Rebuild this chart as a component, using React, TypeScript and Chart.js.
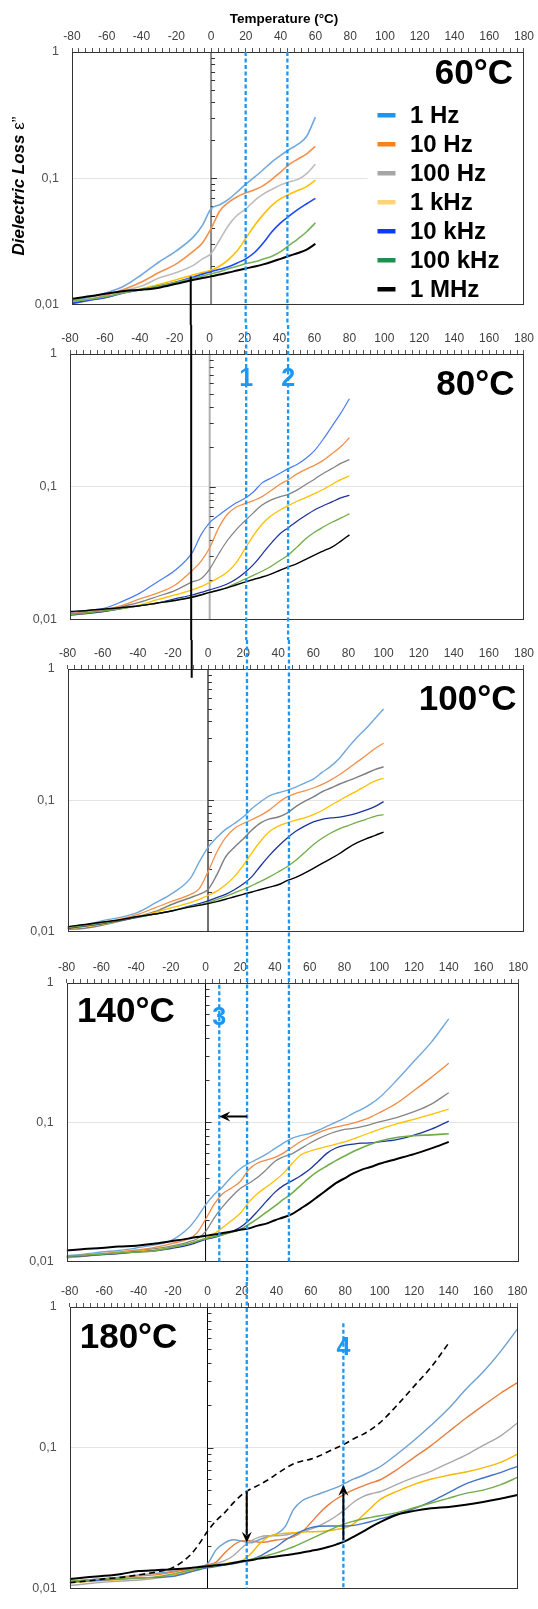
import React, { useEffect, useRef } from 'react';
import { Chart, registerables } from 'chart.js';

Chart.register(...registerables);

const FONT = "'Liberation Sans', Arial, Helvetica, sans-serif";
const PAGE_W = 538;

// ---------------- data ----------------
const TEMPS = [-80, -70, -60, -50, -40, -30, -20, -10, -5, 0, 5, 10, 15, 20, 25, 30, 35, 40, 45, 50, 55, 60, 65, 70, 75, 80, 85, 90, 95, 100, 110, 120, 130, 140, 150, 160, 170, 180];
const SERIES = ['1 Hz', '10 Hz', '100 Hz', '1 kHz', '10 kHz', '100 kHz', '1 MHz'];
const X_MIN = -80;
const X_MAX = 180;
const X_MINOR_STEP = 4;
const X_LABEL_STEP = 20;
const Y_TICKS = [0.01, 0.1, 1];
const Y_TICK_LABELS = ['0,01', '0,1', '1'];
const Y_MINOR = [2, 3, 4, 5, 6, 7, 8, 9];

// 60 °C
const P60_1HZ = [0.0108, 0.0114, 0.0124, 0.014, 0.0172, 0.0217, 0.0266, 0.0345, 0.0423, 0.0573, 0.0617, 0.068, 0.0778, 0.09, 0.102, 0.117, 0.135, 0.152, 0.169, 0.186, 0.215, 0.305];
const P60_10HZ = [0.0105, 0.011, 0.0119, 0.0132, 0.0151, 0.0179, 0.021, 0.0266, 0.0307, 0.0399, 0.055, 0.0643, 0.0714, 0.0766, 0.0811, 0.0875, 0.098, 0.112, 0.129, 0.142, 0.156, 0.179];
const P60_100HZ = [0.0105, 0.011, 0.0114, 0.0128, 0.014, 0.0162, 0.0179, 0.0205, 0.023, 0.0253, 0.0326, 0.0423, 0.0509, 0.0573, 0.0666, 0.0748, 0.0817, 0.0886, 0.0938, 0.098, 0.109, 0.129];
const P60_1KHZ = [0.0102, 0.0108, 0.0114, 0.0124, 0.0133, 0.0144, 0.0157, 0.0172, 0.0179, 0.0187, 0.0202, 0.0227, 0.0266, 0.0335, 0.0423, 0.0515, 0.061, 0.0689, 0.0748, 0.0802, 0.0859, 0.0966];
const P60_10KHZ = [0.0102, 0.0108, 0.0114, 0.0124, 0.0131, 0.014, 0.0151, 0.0165, 0.0174, 0.0182, 0.019, 0.0199, 0.0213, 0.023, 0.0258, 0.0307, 0.0377, 0.0443, 0.0503, 0.0566, 0.0628, 0.0693];
const P60_100KHZ = [0.0106, 0.011, 0.0116, 0.0124, 0.0132, 0.014, 0.015, 0.0162, 0.0168, 0.0175, 0.0182, 0.0192, 0.0201, 0.0211, 0.0218, 0.0229, 0.0241, 0.0262, 0.0295, 0.0331, 0.0377, 0.0443];
const P60_1MHZ = [0.0111, 0.0116, 0.0122, 0.0128, 0.0131, 0.0136, 0.0146, 0.0157, 0.0162, 0.0167, 0.0173, 0.0179, 0.0186, 0.0193, 0.02, 0.0208, 0.0218, 0.023, 0.0243, 0.0256, 0.0272, 0.0302];

// 80 °C
const P80_1HZ = [0.0112, 0.0117, 0.0122, 0.0137, 0.0158, 0.0192, 0.0234, 0.0319, 0.0434, 0.0537, 0.0608, 0.068, 0.0753, 0.0815, 0.0912, 0.107, 0.116, 0.126, 0.137, 0.147, 0.163, 0.187, 0.228, 0.285, 0.357, 0.46];
const P80_10HZ = [0.0111, 0.0115, 0.0119, 0.0128, 0.0143, 0.0158, 0.0181, 0.0234, 0.0274, 0.0347, 0.0486, 0.0618, 0.07, 0.0745, 0.0787, 0.0843, 0.0933, 0.104, 0.113, 0.125, 0.135, 0.145, 0.158, 0.177, 0.2, 0.234];
const P80_100HZ = [0.011, 0.0113, 0.0117, 0.0125, 0.0135, 0.0149, 0.0165, 0.0192, 0.0203, 0.024, 0.031, 0.0392, 0.0472, 0.055, 0.0636, 0.0728, 0.0793, 0.0838, 0.0877, 0.0943, 0.104, 0.114, 0.126, 0.137, 0.15, 0.16];
const P80_1KHZ = [0.0108, 0.0111, 0.0115, 0.0122, 0.0129, 0.0141, 0.0153, 0.0167, 0.0177, 0.019, 0.0206, 0.0227, 0.0266, 0.0337, 0.0429, 0.0522, 0.0601, 0.0666, 0.072, 0.0778, 0.0828, 0.0887, 0.0953, 0.104, 0.113, 0.121];
const P80_10KHZ = [0.0108, 0.0111, 0.0115, 0.0121, 0.0127, 0.0133, 0.0143, 0.0153, 0.016, 0.0167, 0.0175, 0.0185, 0.0201, 0.0225, 0.0259, 0.031, 0.0373, 0.0439, 0.0491, 0.055, 0.0608, 0.0669, 0.0719, 0.0769, 0.0824, 0.0862];
const P80_100KHZ = [0.0109, 0.0112, 0.0116, 0.0121, 0.0127, 0.0133, 0.0139, 0.0149, 0.0154, 0.016, 0.0167, 0.0175, 0.0187, 0.0201, 0.0215, 0.0231, 0.0251, 0.0277, 0.0306, 0.0351, 0.0406, 0.0454, 0.0497, 0.054, 0.058, 0.0625];
const P80_1MHZ = [0.0115, 0.0117, 0.012, 0.0123, 0.0127, 0.0133, 0.0139, 0.0147, 0.0153, 0.016, 0.0166, 0.0173, 0.0182, 0.0191, 0.02, 0.0209, 0.022, 0.0234, 0.0249, 0.0264, 0.0284, 0.0306, 0.0328, 0.0351, 0.0388, 0.0434];

// 100 °C
const P100_1HZ = [0.0108, 0.0112, 0.0121, 0.0128, 0.014, 0.0165, 0.0197, 0.0255, 0.0339, 0.0438, 0.052, 0.06, 0.0665, 0.0745, 0.0865, 0.0975, 0.108, 0.114, 0.119, 0.126, 0.135, 0.145, 0.163, 0.182, 0.21, 0.254, 0.302, 0.352, 0.418, 0.495];
const P100_10HZ = [0.0106, 0.011, 0.0117, 0.0124, 0.0135, 0.0152, 0.0171, 0.0192, 0.0212, 0.0286, 0.0402, 0.052, 0.061, 0.0665, 0.0713, 0.0767, 0.0845, 0.0958, 0.106, 0.113, 0.118, 0.124, 0.132, 0.143, 0.157, 0.175, 0.196, 0.219, 0.247, 0.272];
const P100_100HZ = [0.0104, 0.0106, 0.0112, 0.012, 0.013, 0.0142, 0.0162, 0.0181, 0.0192, 0.0209, 0.027, 0.037, 0.0438, 0.0506, 0.0593, 0.0672, 0.0721, 0.0745, 0.0798, 0.0895, 0.098, 0.106, 0.116, 0.124, 0.133, 0.141, 0.15, 0.16, 0.171, 0.18];
const P100_1KHZ = [0.0105, 0.0109, 0.0114, 0.0121, 0.0129, 0.014, 0.0153, 0.0166, 0.0176, 0.0188, 0.0203, 0.0227, 0.0262, 0.0317, 0.0398, 0.0489, 0.0577, 0.0635, 0.0673, 0.0705, 0.0733, 0.0776, 0.0836, 0.0916, 0.0998, 0.109, 0.118, 0.129, 0.14, 0.147];
const P100_10KHZ = [0.0106, 0.011, 0.0115, 0.0121, 0.0128, 0.0136, 0.0144, 0.0157, 0.0163, 0.0171, 0.0181, 0.0192, 0.0208, 0.023, 0.0262, 0.0317, 0.038, 0.0446, 0.0514, 0.058, 0.0635, 0.0684, 0.0716, 0.0733, 0.0745, 0.0767, 0.0798, 0.084, 0.0894, 0.0976];
const P100_100KHZ = [0.0107, 0.0111, 0.0116, 0.0122, 0.0129, 0.0136, 0.0144, 0.0155, 0.016, 0.0166, 0.0175, 0.0185, 0.0197, 0.0209, 0.0224, 0.0241, 0.0261, 0.0284, 0.0311, 0.0349, 0.04, 0.0459, 0.0514, 0.0563, 0.0607, 0.0643, 0.068, 0.0716, 0.0754, 0.0776];
const P100_1MHZ = [0.0109, 0.0113, 0.0118, 0.0123, 0.013, 0.0136, 0.0144, 0.0154, 0.0158, 0.0163, 0.0169, 0.0176, 0.0184, 0.0192, 0.02, 0.0209, 0.0218, 0.0227, 0.0244, 0.0258, 0.0278, 0.0303, 0.033, 0.0359, 0.0393, 0.0436, 0.0475, 0.0508, 0.0538, 0.0572];

// 140 °C
const P140_1HZ = [0.011, 0.0113, 0.0117, 0.012, 0.0125, 0.0131, 0.0141, 0.0173, 0.0206, 0.0255, 0.0303, 0.0346, 0.0406, 0.0464, 0.0508, 0.0545, 0.059, 0.0649, 0.0711, 0.077, 0.0804, 0.083, 0.0876, 0.0938, 0.1, 0.107, 0.116, 0.124, 0.135, 0.15, 0.2, 0.274, 0.376, 0.553];
const P140_10HZ = [0.0108, 0.0111, 0.0114, 0.0117, 0.0121, 0.0126, 0.0134, 0.0145, 0.016, 0.0201, 0.0258, 0.0308, 0.0337, 0.0375, 0.0459, 0.051, 0.0535, 0.0559, 0.0603, 0.0664, 0.073, 0.0787, 0.0843, 0.0889, 0.0923, 0.0953, 0.0984, 0.103, 0.109, 0.117, 0.137, 0.169, 0.21, 0.265];
const P140_100HZ = [0.0106, 0.0109, 0.0112, 0.0115, 0.0119, 0.0123, 0.0129, 0.0138, 0.0145, 0.0164, 0.0206, 0.0249, 0.0292, 0.0334, 0.0365, 0.0402, 0.0457, 0.0525, 0.0565, 0.0596, 0.0649, 0.0707, 0.0762, 0.0813, 0.0857, 0.0889, 0.0904, 0.0929, 0.0964, 0.1005, 0.108, 0.119, 0.135, 0.163];
const P140_1KHZ = [0.0107, 0.011, 0.0112, 0.0115, 0.0118, 0.0121, 0.0126, 0.0134, 0.014, 0.0146, 0.0158, 0.0176, 0.0197, 0.0222, 0.0268, 0.0308, 0.0343, 0.0381, 0.0433, 0.0508, 0.0584, 0.0619, 0.0646, 0.067, 0.0696, 0.0722, 0.0758, 0.08, 0.0844, 0.0889, 0.0974, 0.105, 0.114, 0.124];
const P140_10KHZ = [0.0108, 0.011, 0.0112, 0.0114, 0.0117, 0.0119, 0.0124, 0.0131, 0.0137, 0.0144, 0.0149, 0.0156, 0.0164, 0.0176, 0.0198, 0.023, 0.027, 0.0315, 0.0352, 0.0381, 0.0415, 0.0459, 0.0525, 0.06, 0.0653, 0.0682, 0.0696, 0.0707, 0.0711, 0.0722, 0.075, 0.0808, 0.0893, 0.102];
const P140_100KHZ = [0.0109, 0.0111, 0.0113, 0.0115, 0.0117, 0.0119, 0.0126, 0.0134, 0.014, 0.0146, 0.0151, 0.0156, 0.0163, 0.017, 0.0185, 0.0203, 0.0226, 0.0251, 0.028, 0.0311, 0.0354, 0.0402, 0.0447, 0.0487, 0.053, 0.0572, 0.0616, 0.0657, 0.0696, 0.073, 0.0778, 0.08, 0.0812, 0.0826];
const P140_1MHZ = [0.012, 0.0123, 0.0125, 0.0128, 0.013, 0.0134, 0.014, 0.0146, 0.015, 0.0153, 0.0156, 0.016, 0.0164, 0.0169, 0.0173, 0.0181, 0.0187, 0.0198, 0.0208, 0.022, 0.0241, 0.0265, 0.0295, 0.0328, 0.0365, 0.0396, 0.0429, 0.0457, 0.0477, 0.0503, 0.0545, 0.059, 0.0649, 0.0723];

// 180 °C
const P180_1HZ = [0.0112, 0.0115, 0.0118, 0.0121, 0.0125, 0.0128, 0.0132, 0.014, 0.0143, 0.015, 0.0188, 0.0211, 0.0222, 0.0217, 0.0211, 0.0222, 0.0234, 0.0244, 0.0274, 0.0365, 0.042, 0.0448, 0.0471, 0.0496, 0.0523, 0.056, 0.06, 0.0635, 0.068, 0.073, 0.09, 0.113, 0.145, 0.19, 0.26, 0.345, 0.48, 0.7];
const P180_10HZ = [0.0112, 0.0114, 0.0117, 0.012, 0.0123, 0.0125, 0.0131, 0.0138, 0.0141, 0.0147, 0.0154, 0.0179, 0.0203, 0.0218, 0.0219, 0.0213, 0.0215, 0.0221, 0.0225, 0.0234, 0.0253, 0.0293, 0.0343, 0.0391, 0.0434, 0.0471, 0.0504, 0.0534, 0.0563, 0.059, 0.07, 0.0855, 0.104, 0.13, 0.162, 0.199, 0.243, 0.29];
const P180_100HZ = [0.0105, 0.0108, 0.0111, 0.0113, 0.0115, 0.0118, 0.0125, 0.0136, 0.014, 0.0145, 0.015, 0.0158, 0.0171, 0.0195, 0.0217, 0.0232, 0.0237, 0.0237, 0.024, 0.0247, 0.0253, 0.0264, 0.028, 0.0301, 0.0329, 0.0365, 0.0412, 0.0448, 0.0471, 0.0487, 0.055, 0.0615, 0.0683, 0.0778, 0.0887, 0.104, 0.121, 0.15];
const P180_1KHZ = [0.011, 0.0112, 0.0114, 0.0116, 0.0118, 0.012, 0.0124, 0.0132, 0.0138, 0.0143, 0.0147, 0.015, 0.0154, 0.0158, 0.0176, 0.0206, 0.0232, 0.0243, 0.0247, 0.0249, 0.0252, 0.0253, 0.0254, 0.0257, 0.0263, 0.027, 0.0289, 0.0329, 0.0375, 0.0427, 0.049, 0.055, 0.06, 0.0638, 0.0673, 0.072, 0.0787, 0.09];
const P180_10KHZ = [0.0111, 0.0113, 0.0115, 0.0117, 0.0119, 0.012, 0.0122, 0.0131, 0.0136, 0.014, 0.0143, 0.0147, 0.015, 0.0154, 0.016, 0.0169, 0.0183, 0.0198, 0.022, 0.0239, 0.0257, 0.0271, 0.0277, 0.0278, 0.0278, 0.0278, 0.0281, 0.0289, 0.0299, 0.0312, 0.0337, 0.0369, 0.0416, 0.048, 0.0554, 0.061, 0.0666, 0.0738];
const P180_100KHZ = [0.0113, 0.0115, 0.0117, 0.0118, 0.0119, 0.0121, 0.0127, 0.0135, 0.0139, 0.0143, 0.0145, 0.0148, 0.0152, 0.0156, 0.0161, 0.0166, 0.0172, 0.0179, 0.0188, 0.0198, 0.0211, 0.0225, 0.024, 0.0257, 0.0274, 0.0289, 0.0301, 0.0312, 0.032, 0.0329, 0.0346, 0.0375, 0.0405, 0.0438, 0.0474, 0.05, 0.0545, 0.0615];
const P180_1MHZ = [0.0117, 0.012, 0.0123, 0.0127, 0.0133, 0.0135, 0.0137, 0.014, 0.0142, 0.0144, 0.0146, 0.0148, 0.0152, 0.0156, 0.0159, 0.0163, 0.0166, 0.0169, 0.0172, 0.0176, 0.018, 0.0185, 0.019, 0.0197, 0.0206, 0.0217, 0.0234, 0.0253, 0.0274, 0.0295, 0.0334, 0.0356, 0.0371, 0.038, 0.0394, 0.0412, 0.0434, 0.0461];

const X_TICK_VALUES = Array.from({ length: (X_MAX - X_MIN) / X_MINOR_STEP + 1 }, (_, i) => X_MIN + i * X_MINOR_STEP);

// ---------------- styles / layout ----------------
const BLUE_MARK = '#1A98F4';
const LEGEND_COLORS = ['#1E96F0', '#F7821B', '#A6A6A6', '#FFD479', '#0B3BFF', '#1F8F4F', '#000000'];

type VLine = { t: number; from: any; to: any; color: string; width: number; dash?: number[] };

const blueDash = (t: number, from: any, to: any): VLine => ({ t, from, to, color: BLUE_MARK, width: 2.3, dash: [4, 2.5] });
const blackLine = (t: number, from: any, to: any): VLine => ({ t, from, to, color: '#000', width: 2 });

const PANELS: any[] = [
  {
    key: 'p60', canvasTop: 0, canvasH: 325, left: 72, right: 527.5, plotTop: 52, plotBottom: 316,
    series: [P60_1HZ, P60_10HZ, P60_100HZ, P60_1KHZ, P60_10KHZ, P60_100KHZ, P60_1MHZ],
    colors: ['#72A9DC', '#F4904A', '#BDBDBD', '#FFC000', '#1A47FF', '#77B255', '#000000'],
    widths: [1.6, 1.6, 1.6, 1.6, 1.6, 1.6, 2],
    zeroColor: '#8a8a8a', zeroWidth: 2, mask: 90,
    title: { text: '60°C', align: 'right', dx: -11, dy: 22 },
    vlines: [blueDash(19.9, 'plotTop', 'bottom'), blueDash(43.9, 'plotTop', 'bottom'), blackLine(-11.7, 0.0167, 'bottom')],
    labels: [], arrows: [], legend: true, headers: true,
  },
  {
    key: 'p80', canvasTop: 325, canvasH: 315, left: 70, right: 526, plotTop: 29, plotBottom: 302,
    series: [P80_1HZ, P80_10HZ, P80_100HZ, P80_1KHZ, P80_10KHZ, P80_100KHZ, P80_1MHZ],
    colors: ['#4A7DF2', '#F4904A', '#808080', '#FFC000', '#1C2E9E', '#70AD47', '#000000'],
    widths: [1.2, 1.3, 1.2, 1.3, 1.2, 1.3, 1.4],
    zeroColor: '#b0b0b0', zeroWidth: 2,
    title: { text: '80°C', align: 'right', dx: -9.5, dy: 31 },
    vlines: [blueDash(20.9, 'top', 'bottom'), blueDash(44.9, 'top', 'bottom'), blackLine(-10.6, 'top', 'bottom')],
    labels: [{ t: 20.9, v: 0.645, text: '1' }, { t: 44.9, v: 0.645, text: '2' }], arrows: [],
  },
  {
    key: 'p100', canvasTop: 640, canvasH: 312, left: 67.6, right: 524, plotTop: 29, plotBottom: 298,
    series: [P100_1HZ, P100_10HZ, P100_100HZ, P100_1KHZ, P100_10KHZ, P100_100KHZ, P100_1MHZ],
    colors: ['#6FA8DC', '#F4904A', '#7F7F7F', '#FFC000', '#1C34A0', '#70AD47', '#000000'],
    widths: [1.4, 1.3, 1.5, 1.3, 1.3, 1.3, 1.4],
    zeroColor: '#707070', zeroWidth: 2,
    title: { text: '100°C', align: 'right', dx: -7.5, dy: 31 },
    vlines: [blueDash(22.2, 'top', 'bottom'), blueDash(46.1, 'top', 'bottom'), blackLine(-9.3, 'top', 0.857)],
    labels: [], arrows: [],
  },
  {
    key: 'p140', canvasTop: 952, canvasH: 330, left: 66.6, right: 518.2, plotTop: 31, plotBottom: 319,
    series: [P140_1HZ, P140_10HZ, P140_100HZ, P140_1KHZ, P140_10KHZ, P140_100KHZ, P140_1MHZ],
    colors: ['#6FA8DC', '#F08A45', '#858585', '#FFC000', '#1C34A0', '#70AD47', '#000000'],
    widths: [1.4, 1.3, 1.3, 1.3, 1.3, 1.6, 2],
    zeroColor: '#000000', zeroWidth: 1,
    title: { text: '140°C', align: 'left', dx: 10.4, dy: 29 },
    vlines: [blueDash(23.9, 'top', 'bottom'), blueDash(48.0, 'top', 'plotBottom'), blueDash(7.9, 0.97, 'plotBottom')],
    labels: [{ t: 7.9, v: 0.562, text: '3' }],
    arrows: [{ t1: 23.9, v1: 0.11, t2: 7.9, v2: 0.11 }],
  },
  {
    key: 'p180', canvasTop: 1282, canvasH: 327, left: 69.7, right: 517.5, plotTop: 25, plotBottom: 319,
    series: [P180_1HZ, P180_10HZ, P180_100HZ, P180_1KHZ, P180_10KHZ, P180_100KHZ, P180_1MHZ],
    colors: ['#6C9FD2', '#E87D3C', '#A8A8A8', '#F5B800', '#4472C4', '#70AD47', '#000000'],
    widths: [1.4, 1.4, 1.4, 1.4, 1.4, 1.4, 2],
    zeroColor: '#000000', zeroWidth: 1,
    title: { text: '180°C', align: 'left', dx: 10, dy: 31 },
    dashed: P140_1HZ,
    vlines: [blueDash(22.8, 'top', 'plotBottom'), blueDash(78.9, 0.766, 'plotBottom')],
    labels: [{ t: 78.9, v: 0.51, text: '4' }],
    arrows: [{ t1: 22.8, v1: 0.049, t2: 22.8, v2: 0.0211 }, { t1: 78.9, v1: 0.0222, t2: 78.9, v2: 0.0546 }],
  },
];

function overlayPlugin(p: any) {
  return {
    id: 'overlay_' + p.key,
    beforeDatasetsDraw(chart: any) {
      const { ctx, chartArea: a, scales } = chart;
      const xs = scales.x;
      const ys = scales.y;
      ctx.save();
      if (p.mask !== undefined) {
        const mx = xs.getPixelForValue(p.mask);
        ctx.fillStyle = '#ffffff';
        ctx.fillRect(mx, a.top + 1, a.right - mx - 1, a.bottom - a.top - 2);
      }
      const x0 = xs.getPixelForValue(0);
      ctx.strokeStyle = p.zeroColor;
      ctx.lineWidth = p.zeroWidth;
      ctx.beginPath();
      ctx.moveTo(x0, a.top);
      ctx.lineTo(x0, a.bottom);
      ctx.stroke();
      ctx.strokeStyle = '#333';
      ctx.lineWidth = 1;
      ctx.beginPath();
      [0.01, 0.1].forEach((d) => {
        Y_MINOR.forEach((m) => {
          const y = Math.round(ys.getPixelForValue(m * d)) + 0.5;
          ctx.moveTo(x0, y);
          ctx.lineTo(x0 + 4, y);
        });
      });
      const ym = Math.round(ys.getPixelForValue(0.1)) + 0.5;
      ctx.moveTo(x0, ym);
      ctx.lineTo(x0 + 6, ym);
      ctx.stroke();
      ctx.restore();
    },
    afterDatasetsDraw(chart: any) {
      const { ctx, chartArea: a, scales } = chart;
      const xs = scales.x;
      const ys = scales.y;
      const yOf = (s: any) =>
        s === 'top' ? 0 : s === 'bottom' ? chart.height : s === 'plotTop' ? a.top : s === 'plotBottom' ? a.bottom : ys.getPixelForValue(s);
      ctx.save();

      // plot frame
      ctx.strokeStyle = '#333';
      ctx.lineWidth = 1;
      ctx.setLineDash([]);
      ctx.strokeRect(Math.round(a.left) + 0.5, Math.round(a.top) + 0.5, Math.round(a.right - a.left) - 1, Math.round(a.bottom - a.top) - 1);

      // vertical marker lines
      p.vlines.forEach((l: VLine) => {
        const x = xs.getPixelForValue(l.t);
        ctx.strokeStyle = l.color;
        ctx.lineWidth = l.width;
        ctx.setLineDash(l.dash || []);
        ctx.beginPath();
        ctx.moveTo(x, yOf(l.from));
        ctx.lineTo(x, yOf(l.to));
        ctx.stroke();
      });
      ctx.setLineDash([]);

      // arrows
      p.arrows.forEach((ar: any) => {
        const x1 = xs.getPixelForValue(ar.t1);
        const y1 = ys.getPixelForValue(ar.v1);
        const x2 = xs.getPixelForValue(ar.t2);
        const y2 = ys.getPixelForValue(ar.v2);
        const ang = Math.atan2(y2 - y1, x2 - x1);
        const hl = 11;
        const hw = 5;
        const c = Math.cos(ang);
        const s = Math.sin(ang);
        ctx.strokeStyle = '#000';
        ctx.lineWidth = 2;
        ctx.beginPath();
        ctx.moveTo(x1, y1);
        ctx.lineTo(x2 - hl * 0.7 * c, y2 - hl * 0.7 * s);
        ctx.stroke();
        ctx.fillStyle = '#000';
        ctx.beginPath();
        ctx.moveTo(x2, y2);
        ctx.lineTo(x2 - hl * c + hw * s, y2 - hl * s - hw * c);
        ctx.lineTo(x2 - hl * 0.65 * c, y2 - hl * 0.65 * s);
        ctx.lineTo(x2 - hl * c - hw * s, y2 - hl * s + hw * c);
        ctx.closePath();
        ctx.fill();
      });

      // blue number labels
      ctx.font = `bold 25px ${FONT}`;
      ctx.fillStyle = BLUE_MARK;
      ctx.textAlign = 'center';
      ctx.textBaseline = 'middle';
      p.labels.forEach((lb: any) => {
        ctx.fillText(lb.text, xs.getPixelForValue(lb.t), ys.getPixelForValue(lb.v));
      });

      // panel temperature title
      ctx.font = `bold 35px ${FONT}`;
      ctx.fillStyle = '#000';
      ctx.textAlign = p.title.align;
      ctx.textBaseline = 'middle';
      const tx = p.title.align === 'right' ? a.right + p.title.dx : a.left + p.title.dx;
      ctx.fillText(p.title.text, tx, a.top + p.title.dy);

      // legend
      if (p.legend) {
        ctx.font = `bold 24px ${FONT}`;
        ctx.textAlign = 'left';
        SERIES.forEach((name, i) => {
          const y = a.top + 63 + i * 29;
          ctx.fillStyle = LEGEND_COLORS[i];
          ctx.fillRect(a.right - 146.5, y - 2, 18, 4.5);
          ctx.fillStyle = '#000';
          ctx.fillText(name, a.right - 114, y + 1);
        });
      }

      // axis titles
      if (p.headers) {
        ctx.font = `bold 13.5px ${FONT}`;
        ctx.fillStyle = '#000';
        ctx.textAlign = 'center';
        ctx.textBaseline = 'middle';
        ctx.fillText('Temperature (°C)', 284, 19);

        ctx.save();
        ctx.translate(19, 186);
        ctx.rotate(-Math.PI / 2);
        const part1 = 'Dielectric Loss ';
        const part2 = 'ε”';
        ctx.font = `italic bold 17px ${FONT}`;
        const w1 = ctx.measureText(part1).width;
        ctx.font = `17px ${FONT}`;
        const w2 = ctx.measureText(part2).width;
        const start = -(w1 + w2) / 2;
        ctx.textAlign = 'left';
        ctx.font = `italic bold 17px ${FONT}`;
        ctx.fillText(part1, start, 0);
        ctx.font = `17px ${FONT}`;
        ctx.fillText(part2, start + w1, 0);
        ctx.restore();
      }
      ctx.restore();
    },
  };
}

function Panel({ p }: { p: any }) {
  const ref = useRef<HTMLCanvasElement | null>(null);
  useEffect(() => {
    const canvas = ref.current;
    if (!canvas) return;
    const datasets: any[] = [];
    if (p.dashed) {
      datasets.push({
        label: '140°C 1 Hz',
        data: p.dashed.map((v: number, k: number) => ({ x: TEMPS[k], y: v })),
        borderColor: '#000',
        borderWidth: 1.6,
        borderDash: [6, 4],
        pointRadius: 0,
        fill: false,
        cubicInterpolationMode: 'monotone',
      });
    }
    [6, 5, 4, 3, 2, 1, 0].forEach((i) => {
      const vals: number[] = p.series[i];
      datasets.push({
        label: SERIES[i],
        data: vals.map((v, k) => ({ x: TEMPS[k], y: v })),
        borderColor: p.colors[i],
        borderWidth: p.widths[i],
        pointRadius: 0,
        fill: false,
        cubicInterpolationMode: 'monotone',
      });
    });

    const chart = new Chart(canvas, {
      type: 'line',
      data: { datasets },
      options: {
        responsive: false,
        animation: false,
        devicePixelRatio: 1,
        events: [],
        layout: { padding: { left: 0, top: 0, right: PAGE_W - p.right, bottom: p.canvasH - p.plotBottom } },
        plugins: { legend: { display: false }, tooltip: { enabled: false }, title: { display: false } },
        scales: {
          x: {
            type: 'linear',
            position: 'top',
            min: X_MIN,
            max: X_MAX,
            afterBuildTicks: (s: any) => {
              s.ticks = X_TICK_VALUES.map((v) => ({ value: v }));
            },
            afterFit: (s: any) => {
              s.height = p.plotTop;
            },
            ticks: {
              autoSkip: false,
              maxRotation: 0,
              minRotation: 0,
              padding: 4,
              color: '#404040',
              font: { family: FONT, size: 12 },
              callback: (v: any) => (Number(v) % X_LABEL_STEP === 0 ? String(v) : ''),
            },
            grid: { drawOnChartArea: false, drawTicks: true, tickLength: 4, tickColor: '#555', tickWidth: 1 },
            border: { display: false },
          },
          y: {
            type: 'logarithmic',
            position: 'left',
            min: 0.01,
            max: 1,
            afterBuildTicks: (s: any) => {
              s.ticks = Y_TICKS.map((v) => ({ value: v }));
            },
            afterFit: (s: any) => {
              s.width = p.left;
            },
            ticks: {
              autoSkip: false,
              padding: 13,
              color: '#505050',
              font: { family: FONT, size: 12.5 },
              callback: (v: any) => {
                const i = Y_TICKS.indexOf(Number(v));
                return i >= 0 ? Y_TICK_LABELS[i] : '';
              },
            },
            grid: {
              drawTicks: false,
              lineWidth: 1,
              color: (c: any) => (c.tick && c.tick.value === 0.1 ? '#E4E4E4' : 'rgba(0,0,0,0)'),
            },
            border: { display: false },
          },
        },
      } as any,
      plugins: [overlayPlugin(p)],
    });
    return () => chart.destroy();
  }, [p]);

  return (
    <div style={{ position: 'absolute', left: 0, top: p.canvasTop, width: PAGE_W, height: p.canvasH }}>
      <canvas ref={ref} width={PAGE_W} height={p.canvasH} style={{ width: PAGE_W, height: p.canvasH, display: 'block' }} />
    </div>
  );
}

export default function App() {
  return (
    <div style={{ position: 'absolute', left: 0, top: 0, width: PAGE_W, height: 1609, background: '#ffffff', overflow: 'hidden' }}>
      {PANELS.map((p) => (
        <Panel key={p.key} p={p} />
      ))}
    </div>
  );
}
